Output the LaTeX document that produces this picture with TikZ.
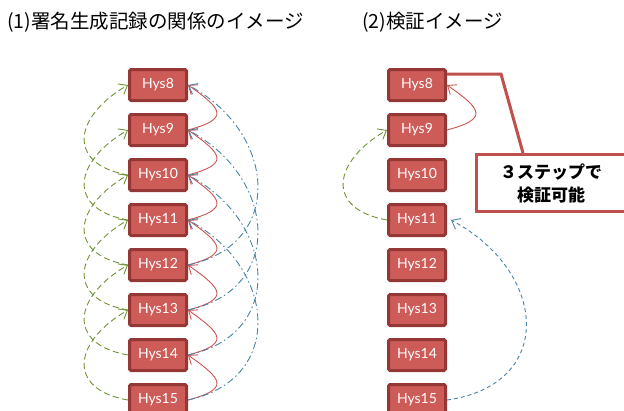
\documentclass[tikz,border=0pt]{standalone}
\usepackage{fontspec}
\newfontfamily\jp{Noto Sans CJK JP}
\newfontfamily\hysfont{Lato}
\usetikzlibrary{arrows.meta,calc}
\definecolor{boxfill}{RGB}{205,92,88}
\definecolor{boxedge}{RGB}{149,55,53}
\definecolor{redarc}{RGB}{205,85,80}
\definecolor{greenarc}{RGB}{112,148,52}
\definecolor{bluearc}{RGB}{72,132,165}
\definecolor{callred}{RGB}{192,80,77}
\begin{document}
\begin{tikzpicture}[x=1pt,y=-1pt,
  hbox/.style={draw=boxedge, fill=boxfill, line width=3pt, rounded corners=1.5pt,
    minimum width=57pt, minimum height=31pt, inner sep=0pt, text=white,
    font=\hysfont\fontsize{14}{14}\selectfont},
  barbtip/.style={-{Straight Barb[length=7.5pt,width=12pt]}},
  redline/.style={draw=redarc, line width=0.9pt, barbtip},
  greenline/.style={draw=greenarc, line width=0.9pt, dash pattern=on 6pt off 3.5pt, barbtip},
  bluedashdot/.style={draw=bluearc, line width=0.9pt, dash pattern=on 7pt off 3pt on 1.5pt off 3pt, barbtip},
  bluedash/.style={draw=bluearc, line width=0.9pt, dash pattern=on 4pt off 3pt, barbtip},
  titletext/.style={anchor=west, inner sep=0pt, font=\jp\fontsize{19.5}{19.5}\selectfont},
  calloutbox/.style={draw=callred, line width=3pt, fill=white, minimum width=149pt,
    minimum height=57pt, inner sep=0pt, align=center,
    font=\jp\bfseries\fontsize{17}{23}\selectfont},
  calloutline/.style={draw=callred, line width=3pt}
]
\useasboundingbox (0,0) rectangle (624,410);
% titles
\node[titletext] (t1) at (7,22) {(1)署名生成記録の関係のイメージ};
\node[titletext] (t2) at (362,22) {(2)検証イメージ};
% boxes
\foreach \n in {8,...,15} {
  \node[hbox] (l\n) at (158,{85+45*(\n-8)}) {Hys\n};
  \node[hbox] (r\n) at (417,{85+45*(\n-8)}) {Hys\n};
}
% left panel: red (1 step)
\foreach \n in {8,...,14} {
  \pgfmathtruncatemacro\m{\n+1}
  \draw[redline] (l\m.east) .. controls +(15:43pt) and +(-35:43pt) .. (l\n.east);
}
% left panel: green (2 steps)
\foreach \n in {8,...,13} {
  \pgfmathtruncatemacro\m{\n+2}
  \draw[greenline] (l\m.west) .. controls +(170:63pt) and +(210:63pt) .. (l\n.west);
}
% left panel: blue (4 steps)
\foreach \n in {8,...,11} {
  \pgfmathtruncatemacro\m{\n+4}
  \draw[bluedashdot] (l\m.east) .. controls +(12:100pt) and +(-28:100pt) .. (l\n.east);
}
% right panel
\draw[redline] (r9.east) .. controls +(15:43pt) and +(-35:43pt) .. (r8.east);
\draw[greenline] (r11.west) .. controls +(170:63pt) and +(210:63pt) .. (r9.west);
\draw[bluedash] (r15.east) .. controls +(8:110pt) and +(-28:110pt) .. ($(r11.east)+(4,0)$);
% callout
\coordinate (cc) at (501,74);
\node[calloutbox] (cb) at (551,183) {};
\draw[calloutline] ($(r8.east)+(0,-11)$) -- (cc) -- ($(cb.north west)+(48,0)$);
\node[calloutbox] (cb2) at (551,183) {３ステップで\\検証可能};
\end{tikzpicture}
\end{document}
